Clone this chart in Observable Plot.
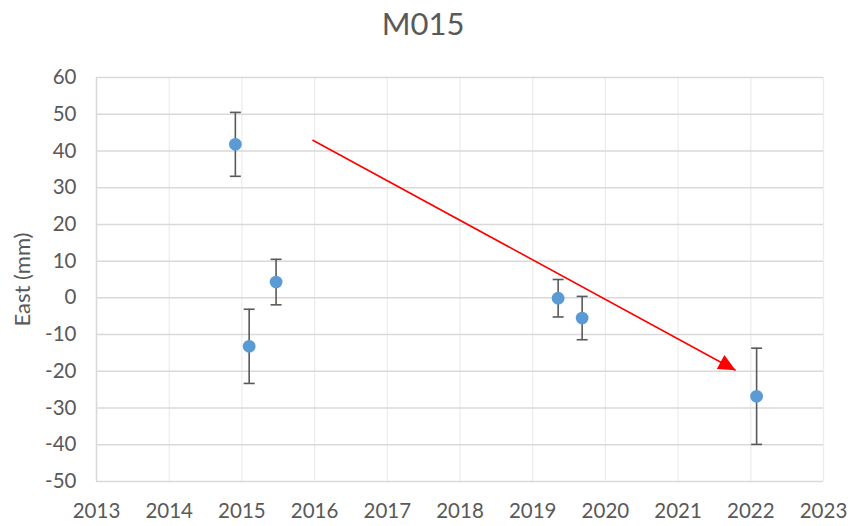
<!DOCTYPE html>
<html>
<head>
<meta charset="utf-8">
<script src="https://cdn.jsdelivr.net/npm/d3@7"></script>
<script src="https://cdn.jsdelivr.net/npm/@observablehq/plot@0.6"></script>
<style>
  html, body { margin: 0; padding: 0; background: #fff; }
  #chart svg { display: block; }
</style>
</head>
<body>
<div id="chart"></div>
<script>
// ---- data ----
const title = "M015";
const yLabel = "East (mm)";
const years = [2014.91, 2015.10, 2015.47, 2019.35, 2019.68, 2022.08];
const east  = [41.8, -13.2, 4.3, -0.1, -5.5, -26.8];
const err   = [8.7, 10.1, 6.2, 5.1, 5.9, 13.1];
const xTicks = [2013, 2014, 2015, 2016, 2017, 2018, 2019, 2020, 2021, 2022, 2023];
const yTicks = [-50, -40, -30, -20, -10, 0, 10, 20, 30, 40, 50, 60];
const trendYears = [2015.97, 2021.79];
const trendEast  = [43.0, -19.7];

const points = years.map((x, i) => ({x, y: east[i], lo: east[i] - err[i], hi: east[i] + err[i]}));
const trend = [{x1: trendYears[0], y1: trendEast[0], x2: trendYears[1], y2: trendEast[1]}];
const trendEnd = [{x: trendYears[1], y: trendEast[1]}];

const font = "Lato, 'Open Sans', sans-serif";
const capSymbol = {draw(ctx) { ctx.moveTo(-5.5, 0); ctx.lineTo(5.5, 0); }};
const headSymbol = {draw(ctx) { ctx.moveTo(0, 0); ctx.lineTo(-17, -8); ctx.lineTo(-17, 8); ctx.closePath(); }};
const plain = d => String(d);

function make(angle) {
  return Plot.plot({
    width: 852,
    height: 526,
    marginLeft: 96,
    marginRight: 29,
    marginTop: 77,
    marginBottom: 45,
    style: {fontFamily: font, background: "#fff", color: "#595959"},
    x: {domain: [2013, 2023], ticks: xTicks, tickFormat: plain, label: null},
    y: {domain: [-50, 60], ticks: yTicks, tickFormat: plain, label: null},
    marks: [
      Plot.gridX(xTicks, {stroke: "#ececec", strokeOpacity: 1, strokeWidth: 1.2}),
      Plot.gridY(yTicks, {stroke: "#d9d9d9", strokeOpacity: 1, strokeWidth: 1.5}),
      Plot.ruleX([2013], {stroke: "#d9d9d9", strokeWidth: 1.5}),
      Plot.axisX(xTicks, {tickSize: 0, tickPadding: 22, fontSize: 20.5, fill: "#595959", tickFormat: plain, label: null}),
      Plot.axisY(yTicks, {tickSize: 0, tickPadding: 20, fontSize: 20.5, fill: "#595959", tickFormat: plain, label: null}),
      Plot.text([yLabel], {frameAnchor: "left", textAnchor: "middle", dx: -74, rotate: -90, fontSize: 22, fill: "#595959"}),
      Plot.text([title], {frameAnchor: "top", dx: -37, dy: -65, fontSize: 31, fill: "#595959"}),
      Plot.ruleX(points, {x: "x", y1: "lo", y2: "hi", stroke: "#595959", strokeWidth: 1.6}),
      Plot.dot(points, {x: "x", y: "lo", symbol: capSymbol, fill: "none", stroke: "#595959", strokeWidth: 1.6}),
      Plot.dot(points, {x: "x", y: "hi", symbol: capSymbol, fill: "none", stroke: "#595959", strokeWidth: 1.6}),
      Plot.dot(points, {x: "x", y: "y", r: 6.4, fill: "#5b9bd5", stroke: "none"}),
      Plot.link(trend, {x1: "x1", y1: "y1", x2: "x2", y2: "y2", stroke: "#ff0000", strokeWidth: 1.6}),
      Plot.dot(trendEnd, {x: "x", y: "y", symbol: headSymbol, fill: "#ff0000", stroke: "none", rotate: angle})
    ]
  });
}

const first = make(0);
const sx = first.scale("x"), sy = first.scale("y");
const dxp = sx.apply(trendYears[1]) - sx.apply(trendYears[0]);
const dyp = sy.apply(trendEast[1]) - sy.apply(trendEast[0]);
const angle = Math.atan2(dyp, dxp) * 180 / Math.PI;
document.getElementById("chart").append(make(angle));
</script>
</body>
</html>
